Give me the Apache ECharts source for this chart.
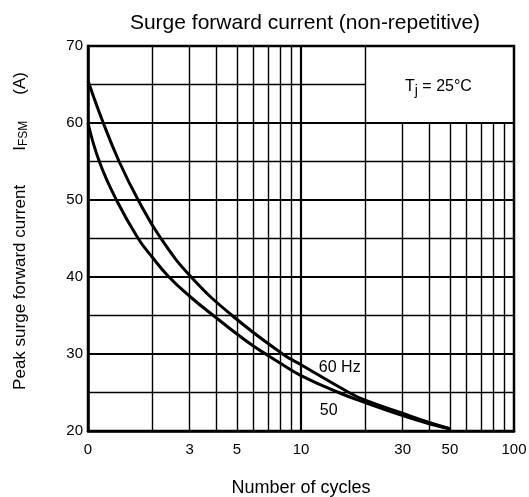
<!DOCTYPE html>
<html>
<head>
<meta charset="utf-8">
<title>Surge forward current</title>
<script src="https://cdn.jsdelivr.net/npm/echarts@6/dist/echarts.min.js"></script>
</head>
<body style="margin:0">
<div id="main" style="width:529px;height:497px;"></div>
<script>
// curves
var cycles60 = [1, 1.18, 1.4, 1.72, 2.2, 3.05, 4.75, 8.2, 10, 16.8, 20, 30, 40, 50];
var amps60 = [65.5, 60, 55, 50, 45, 40, 35, 30, 28.6, 25, 24.0, 22.3, 21.1, 20.3];
var cycles50 = [1, 1.13, 1.36, 1.72, 2, 2.4, 3, 4, 5, 6, 7, 8, 10, 15, 20, 30, 40, 50];
var amps50 = [60, 55, 50, 45, 42.6, 40, 37.5, 34.7, 32.6, 31.0, 29.8, 28.8, 27.2, 25.0, 23.7, 22.0, 20.95, 20.3];

var xTickValues = [1, 3, 5, 10, 30, 50, 100];
var xTickText = ['0', '3', '5', '10', '30', '50', '100'];

// grid lines (datasheet style, drawn by hand)
var hMajor = [30, 40, 50, 60];
var hMinor = [25, 35, 45, 55];
var hBox = [65];           // stops at the Tj box
var vMinor = [2, 3, 4, 5, 6, 7, 8, 9, 20];
var vMajor = [10];
var vShort = [30, 40, 50, 60, 70, 80, 90]; // below the Tj box only

function pairs(xs, ys) {
    return xs.map(function (x, i) { return [x, ys[i]]; });
}

var gridLines = [];
function seg(a, b, w) {
    gridLines.push([{ coord: a, lineStyle: { width: w } }, { coord: b }]);
}
hMajor.forEach(function (y) { seg([1, y], [100, y], 2.2); });
hMinor.forEach(function (y) { seg([1, y], [100, y], 1.4); });
hBox.forEach(function (y) { seg([1, y], [20, y], 1.4); });
vMinor.forEach(function (x) { seg([x, 20], [x, 70], 1.4); });
vMajor.forEach(function (x) { seg([x, 20], [x, 70], 2.2); });
vShort.forEach(function (x) { seg([x, 20], [x, 60], 1.4); });

var myChart = echarts.init(document.getElementById('main'));

var font = 'Liberation Sans, Arial, Helvetica, sans-serif';

var option = {
    animation: false,
    textStyle: { fontFamily: font, color: '#000' },
    title: {
        text: 'Surge forward current (non-repetitive)',
        left: 300,
        top: 8,
        textAlign: 'center',
        textStyle: { fontFamily: font, fontSize: 21, fontWeight: 'normal', color: '#000' }
    },
    grid: {
        left: 88, right: 15, top: 46, bottom: 66,
        outerBoundsMode: 'none',
        show: true, borderColor: '#000', borderWidth: 2.5
    },
    xAxis: {
        type: 'log',
        logBase: 10,
        min: 1,
        max: 100,
        name: 'Number of cycles',
        nameLocation: 'middle',
        nameGap: 48,
        nameTextStyle: { fontFamily: font, fontSize: 18, color: '#000' },
        axisLine: { lineStyle: { color: '#000', width: 2.5 } },
        axisTick: { show: false },
        splitLine: { show: false },
        minorTick: { show: false },
        axisLabel: {
            customValues: xTickValues,
            fontSize: 15, color: '#000', margin: 11,
            formatter: function (v) {
                var i = xTickValues.indexOf(v);
                return i >= 0 ? xTickText[i] : String(v);
            }
        }
    },
    yAxis: {
        type: 'value',
        min: 20,
        max: 70,
        interval: 10,
        name: '{a|Peak surge forward current}{g1|}{a|I}{b|FSM}{g2|}{a|(A)}',
        nameLocation: 'middle',
        nameGap: 58,
        nameTextStyle: {
            fontFamily: font, fontSize: 17, color: '#000',
            padding: [0, 0, 0, 15],
            rich: {
                a: { fontFamily: font, fontSize: 17, color: '#000' },
                b: { fontFamily: font, fontSize: 12, color: '#000', padding: [8, 0, 0, 0] },
                g1: { width: 34 },
                g2: { width: 26 }
            }
        },
        axisLine: { show: true, lineStyle: { color: '#000', width: 2.5 } },
        axisTick: { show: false },
        splitLine: { show: false },
        axisLabel: { fontSize: 15, color: '#000', margin: 5 }
    },
    series: [{
        name: 'grid',
        type: 'line',
        data: [],
        silent: true,
        markLine: {
            z: 1,
            silent: true,
            symbol: ['none', 'none'],
            label: { show: false },
            emphasis: { disabled: true },
            lineStyle: { color: '#000', type: 'solid', width: 1.4 },
            data: gridLines
        },
        markPoint: {
            silent: true,
            symbol: 'circle',
            symbolSize: 1,
            itemStyle: { color: 'rgba(0,0,0,0)' },
            label: {
                show: true, position: 'inside', color: '#000',
                fontFamily: font, fontSize: 16,
                rich: {
                    t: { fontFamily: font, fontSize: 16, color: '#000' },
                    s: { fontFamily: font, fontSize: 14, color: '#000', padding: [8, 0, 0, 0] }
                }
            },
            data: [
                { coord: [44.2, 64.7], label: { formatter: '{t|T}{s|j}{t| = 25°C}' } },
                { coord: [15.2, 28.2], label: { formatter: '60 Hz' } },
                { coord: [13.5, 22.6], label: { formatter: '50' } }
            ]
        }
    }, {
        name: '60 Hz',
        type: 'line',
        z: 3,
        smooth: 0.45,
        showSymbol: false,
        lineStyle: { color: '#000', width: 3 },
        data: pairs(cycles60, amps60)
    }, {
        name: '50 Hz',
        type: 'line',
        z: 3,
        smooth: 0.45,
        showSymbol: false,
        lineStyle: { color: '#000', width: 3 },
        data: pairs(cycles50, amps50)
    }]
};

myChart.setOption(option);
</script>
</body>
</html>
